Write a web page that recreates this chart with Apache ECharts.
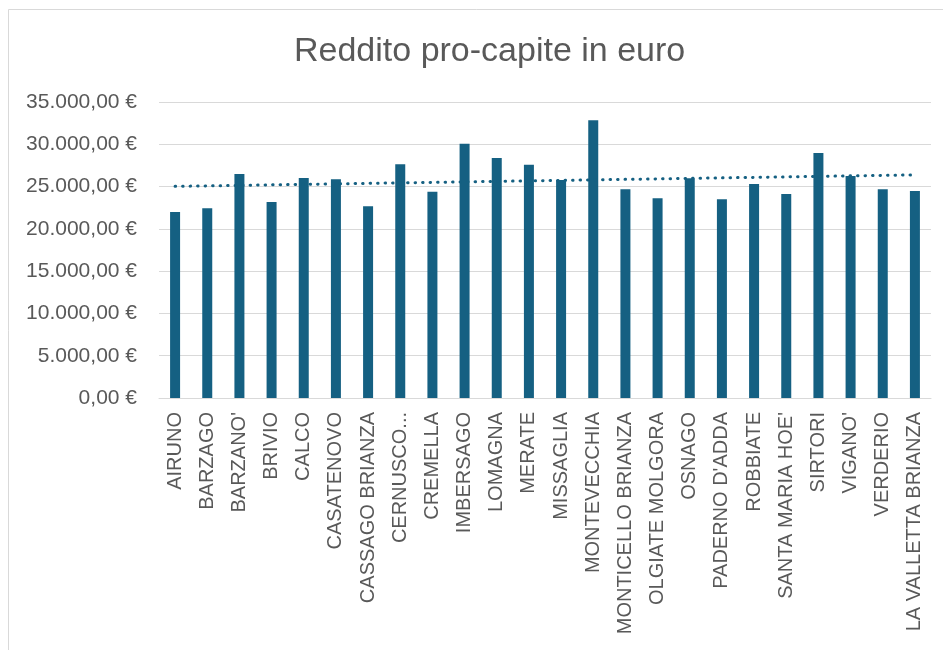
<!DOCTYPE html>
<html>
<head>
<meta charset="utf-8">
<script src="https://cdn.jsdelivr.net/npm/echarts@6/dist/echarts.min.js"></script>
<style>
html,body{margin:0;padding:0;background:#fff;}
#c{width:943px;height:650px;}
</style>
</head>
<body>
<div id="c"></div>
<script>
const categories = ["AIRUNO","BARZAGO","BARZANO'","BRIVIO","CALCO","CASATENOVO","CASSAGO BRIANZA","CERNUSCO...","CREMELLA","IMBERSAGO","LOMAGNA","MERATE","MISSAGLIA","MONTEVECCHIA","MONTICELLO BRIANZA","OLGIATE MOLGORA","OSNAGO","PADERNO D'ADDA","ROBBIATE","SANTA MARIA HOE'","SIRTORI","VIGANO'","VERDERIO","LA VALLETTA BRIANZA"];
const redditoValues = [22000,22450,26480,23180,26000,25860,22680,27630,24400,30060,28370,27580,25780,32850,24680,23620,25980,23500,25310,24130,28960,26250,24680,24480];
const yTicks = {min:0, max:35000, interval:5000};

// Linear trendline (least squares) computed from the data, like Excel's trendline
const n = redditoValues.length;
let sx=0, sy=0, sxy=0, sxx=0;
redditoValues.forEach((v,i)=>{const x=i+1; sx+=x; sy+=v; sxy+=x*v; sxx+=x*x;});
const slope = (n*sxy - sx*sy)/(n*sxx - sx*sx);
const intercept = (sy - slope*sx)/n;
const trendValues = redditoValues.map((v,i)=>intercept + slope*(i+1));

function fmtEuro(v){
  const s = Math.round(v).toString().replace(/\B(?=(\d{3})+(?!\d))/g,'.');
  return s + ',00 €';
}

const chart = echarts.init(document.getElementById('c'), null, {renderer:'canvas'});
chart.setOption({
  backgroundColor:'#ffffff',
  animation:false,
  textStyle:{fontFamily:'Liberation Sans, Arial, sans-serif'},
  title:{
    text:'Reddito pro-capite in euro',
    left:289, top:30,
    textStyle:{fontSize:34, fontWeight:'normal', color:'#595959', fontFamily:'Liberation Sans, Arial, sans-serif'}
  },
  graphic:[{
    type:'rect', silent:true,
    shape:{x:8.5, y:9.5, width:1200, height:1200},
    style:{fill:null, stroke:'#d9d9d9', lineWidth:1}
  }],
  grid:{left:159, right:12, top:102, bottom:252, containLabel:false},
  xAxis:{
    type:'category',
    data:categories,
    axisLine:{show:true, lineStyle:{color:'#d9d9d9', width:1}},
    axisTick:{show:false},
    axisLabel:{rotate:90, interval:0, fontSize:20, color:'#595959', margin:14}
  },
  yAxis:{
    type:'value',
    min:yTicks.min, max:yTicks.max, interval:yTicks.interval,
    axisLine:{show:false}, axisTick:{show:false},
    splitLine:{lineStyle:{color:'#d9d9d9', width:1}},
    axisLabel:{formatter:fmtEuro, fontSize:21, color:'#595959', margin:22}
  },
  series:[
    {
      name:'Reddito', type:'bar', data:redditoValues, barWidth:10,
      itemStyle:{color:'#156082'}
    },
    {
      name:'Tendenza', type:'line', data:trendValues, symbol:'none',
      lineStyle:{color:'#156082', width:3, type:[0.5,7], cap:'round'},
      z:5
    }
  ]
});
</script>
</body>
</html>
